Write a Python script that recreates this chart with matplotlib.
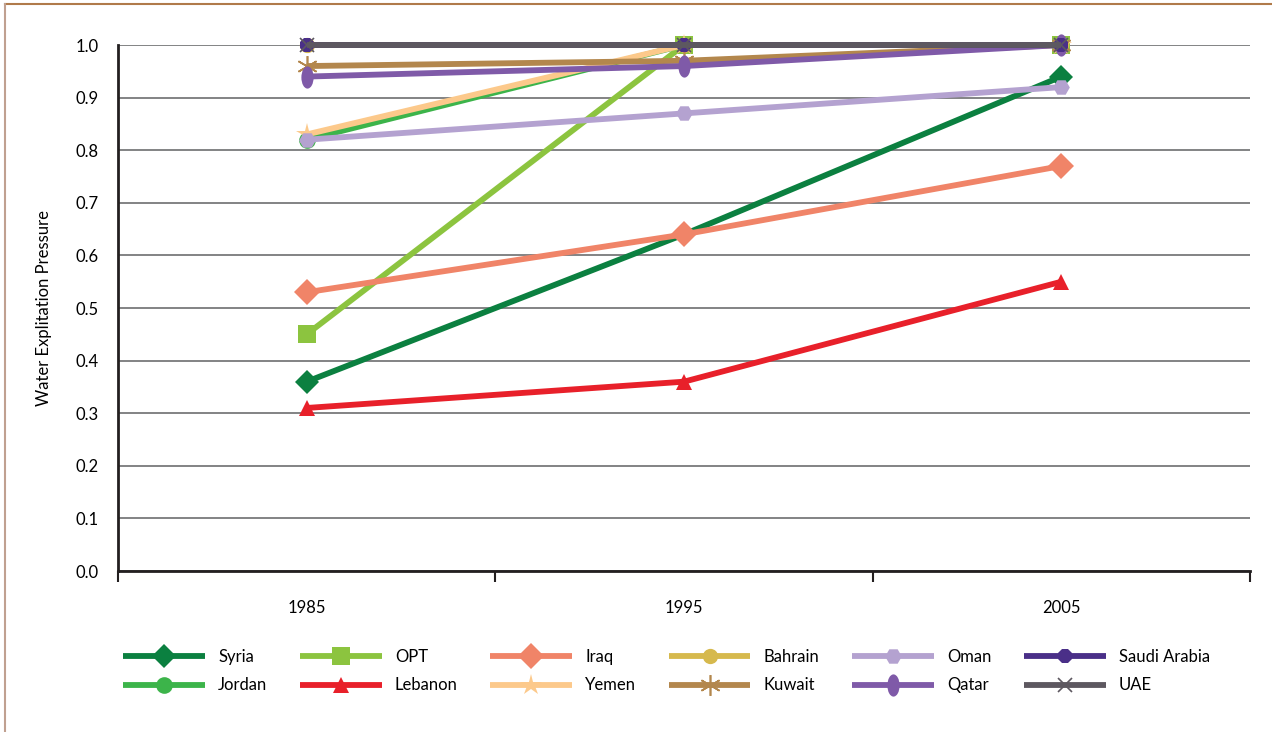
import matplotlib
matplotlib.use('Agg')
import matplotlib.pyplot as plt
from matplotlib.path import Path
from matplotlib.transforms import Affine2D
from matplotlib.lines import Line2D

plt.rcParams['font.family'] = ['Lato', 'DejaVu Sans']

years = ['1985', '1995', '2005']

syria = [0.36, 0.64, 0.94]
jordan = [0.82, 1.00, 1.00]
opt = [0.45, 1.00, 1.00]
lebanon = [0.31, 0.36, 0.55]
iraq = [0.53, 0.64, 0.77]
yemen = [0.83, 1.00, 1.00]
bahrain = [1.00, 1.00, 1.00]
kuwait = [0.96, 0.97, 1.00]
oman = [0.82, 0.87, 0.92]
qatar = [0.94, 0.96, 1.00]
saudi_arabia = [1.00, 1.00, 1.00]
uae = [1.00, 1.00, 1.00]

# vertical ellipse for Qatar
ellipse = Path.unit_circle().transformed(Affine2D().scale(0.55, 1.0))

series = [
    ('Syria', syria, '#0b8040', 'D', 12),
    ('Jordan', jordan, '#3cb44a', 'o', 12),
    ('OPT', opt, '#8cc43f', 's', 13),
    ('Lebanon', lebanon, '#e8202a', '^', 12),
    ('Iraq', iraq, '#f08468', 'D', 13),
    ('Yemen', yemen, '#fcc98b', '*', 16),
    ('Bahrain', bahrain, '#d6b94d', 'o', 11),
    ('Kuwait', kuwait, '#b3874d', (6, 2, 0), 15),
    ('Oman', oman, '#b4a2d0', 'H', 12),
    ('Qatar', qatar, '#7f5aa8', ellipse, 16),
    ('Saudi Arabia', saudi_arabia, '#4a2f88', '8', 11),
    ('UAE', uae, '#5d5860', 'x', 10),
]

fig = plt.figure(figsize=(12.72, 7.32), dpi=100)
ax = fig.add_axes([0.0928, 0.2199, 0.8899, 0.7186])

xs = [0.5, 1.5, 2.5]
for i in range(11):
    ax.axhline(i / 10, color='#6d6e70', lw=1.2, zorder=1)

handles = []
for name, vals, col, mk, ms in series:
    ln, = ax.plot(xs, vals, color=col, lw=4.2, marker=mk, markersize=ms,
                  markeredgewidth=1.2 if mk in ('x', (6, 2, 0)) else 0,
                  markeredgecolor=col, solid_capstyle='butt', zorder=3,
                  clip_on=False)
    handles.append(ln)

ax.set_xlim(0, 3)
ax.set_ylim(0, 1.0)
ax.set_yticks([i / 10 for i in range(11)])
ax.set_yticklabels(['%.1f' % (i / 10) for i in range(11)], fontsize=12)
ax.tick_params(axis='y', length=0, pad=14)
ax.set_xticks([0, 1, 2, 3])
ax.set_xticklabels([])
ax.tick_params(axis='x', direction='out', length=8, width=1.5, color='#231f20')
for x, lab in zip(xs, years):
    ax.text(x, -0.07, lab, ha='center', va='center', fontsize=12,
            transform=ax.get_xaxis_transform())

for s in ['top', 'right']:
    ax.spines[s].set_visible(False)
for s in ['left', 'bottom']:
    ax.spines[s].set_color('#231f20')
    ax.spines[s].set_linewidth(2)

ax.set_ylabel('Water Explitation Pressure', fontsize=12, labelpad=17)

fig.legend(handles=handles, labels=[s[0] for s in series], ncol=6,
           loc='center', bbox_to_anchor=(0.524, 0.083), frameon=False,
           fontsize=12, handlelength=4.9, columnspacing=1.95,
           handletextpad=0.8, labelspacing=0.75)

# outer frame lines (top and left)
fig.add_artist(Line2D([0.004, 1.0], [0.994, 0.994], color='#b07a4a', lw=1.5))
fig.add_artist(Line2D([0.004, 0.004], [0.0, 0.994], color='#c0a090', lw=1.5))

fig.savefig('out.png', dpi=100)
